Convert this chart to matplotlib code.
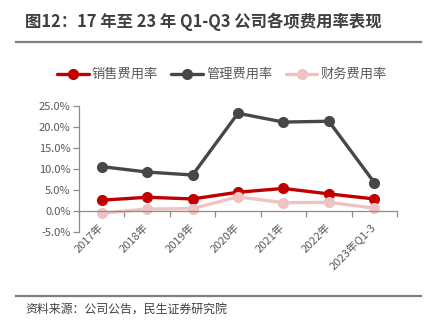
"""Expense ratio trend chart, 2017 to 2023 Q1-Q3."""

import matplotlib.pyplot as plt
from matplotlib.lines import Line2D
from matplotlib.ticker import FixedLocator, FuncFormatter

plt.rcParams["font.family"] = ["Noto Sans CJK SC", "DejaVu Sans"]

years = ["2017年", "2018年", "2019年", "2020年", "2021年", "2022年", "2023年Q1-3"]
sales_rate = [2.5, 3.2, 2.8, 4.4, 5.3, 4.0, 2.8]
admin_rate = [10.5, 9.2, 8.5, 23.2, 21.1, 21.3, 6.7]
finance_rate = [-0.6, 0.4, 0.5, 3.3, 1.9, 2.0, 0.6]

series = [
    ("销售费用率", sales_rate, "#C00000"),
    ("管理费用率", admin_rate, "#474747"),
    ("财务费用率", finance_rate, "#EFC3C3"),
]

text_gray = "#595959"
axis_gray = "#8C8C8C"

fig = plt.figure(figsize=(4.29, 3.33), dpi=100)
fig.patch.set_facecolor("white")

# header and footer
fig.text(25 / 429, 1 - 22 / 333, "图12：17 年至 23 年 Q1-Q3 公司各项费用率表现",
         fontsize=11.8, fontweight="bold", color="#3F3F3F", va="center", ha="left")
fig.add_artist(Line2D([16 / 429, 421 / 429], [1 - 42 / 333] * 2, color="#7F7F7F", lw=1.6))
fig.add_artist(Line2D([16 / 429, 421 / 429], [1 - 296 / 333] * 2, color="#7F7F7F", lw=1.6))
fig.text(25 / 429, 1 - 309 / 333, "资料来源：公司公告，民生证券研究院",
         fontsize=8.6, color="#404040", va="center", ha="left")

ax = fig.add_axes([79 / 429, 1 - 231.7 / 333, 318 / 429, 126 / 333])
x = list(range(len(years)))
for name, vals, color in series:
    ax.plot(x, vals, color=color, lw=2.4, marker="o", markersize=7, label=name,
            solid_capstyle="round")

ax.set_xlim(-0.5, len(years) - 0.5)
ax.set_ylim(-5, 25)
ax.set_yticks([-5, 0, 5, 10, 15, 20, 25])
ax.yaxis.set_major_formatter(FuncFormatter(lambda v, _: f"{v:.1f}%"))
ax.tick_params(axis="y", colors=axis_gray, labelcolor=text_gray, labelsize=8,
               length=4, width=0.9, direction="out", pad=2)

ax.spines["bottom"].set_position(("data", 0))
ax.spines["bottom"].set_color(axis_gray)
ax.spines["left"].set_color(axis_gray)
ax.spines["bottom"].set_linewidth(0.9)
ax.spines["left"].set_linewidth(0.9)
for side in ("top", "right"):
    ax.spines[side].set_visible(False)

ax.set_xticks(x)
ax.set_xticklabels(years, rotation=45, ha="right", va="center",
                   rotation_mode="anchor", fontsize=8, color=text_gray)
ax.tick_params(axis="x", which="major", length=0, pad=11)
ax.xaxis.set_minor_locator(FixedLocator([i - 0.5 for i in range(len(years) + 1)]))
ax.tick_params(axis="x", which="minor", length=4, width=0.9, color=axis_gray,
               direction="out")

leg = ax.legend(loc="center", bbox_to_anchor=(0.5 - 16 / 318, 1 + 31 / 126), ncol=3,
                frameon=False, fontsize=9.5, handlelength=2.4, handletextpad=0.25,
                columnspacing=1.0, labelcolor=text_gray)

fig.savefig("out.png", dpi=100, facecolor="white")
